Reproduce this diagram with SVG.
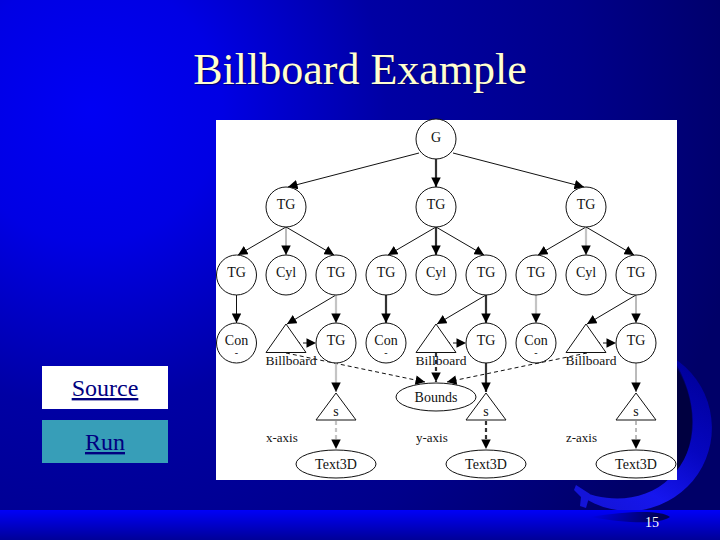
<svg xmlns="http://www.w3.org/2000/svg" width="720" height="540" viewBox="0 0 720 540">
<style>
.n{fill:#fff;stroke:#111;stroke-width:1}
.t{font-family:"Liberation Serif",serif;font-size:14px;fill:#111;text-anchor:middle}
.b{font-size:13.500px}
.da{font-size:10px}
.l{font-family:"Liberation Serif",serif;font-size:13px;fill:#111}
.e{fill:none;stroke:#111;stroke-width:1;marker-end:url(#a)}
.h{stroke-width:2.2;stroke:#333}
.g{stroke:#c4c4c4;stroke-width:2.2}
.m{stroke:#777}
.d{stroke-dasharray:4 3}
.btn{font-family:"Liberation Serif",serif;font-size:24px;fill:#000080;text-anchor:middle;text-decoration:underline}
</style>
<defs>
<radialGradient id="bg" gradientUnits="userSpaceOnUse" cx="90" cy="110" r="660"><stop offset="0" stop-color="#0000f4"/><stop offset="0.2" stop-color="#0000e4"/><stop offset="0.45" stop-color="#0000a4"/><stop offset="0.75" stop-color="#00008a"/><stop offset="1" stop-color="#000068"/></radialGradient>
<linearGradient id="bar" x1="0" y1="0" x2="0" y2="1"><stop offset="0" stop-color="#0000f8"/><stop offset="1" stop-color="#000098"/></linearGradient>
<linearGradient id="sw" gradientUnits="userSpaceOnUse" x1="695" y1="370" x2="600" y2="510"><stop offset="0" stop-color="#00009c"/><stop offset="0.4" stop-color="#0606c0"/><stop offset="0.75" stop-color="#1616ee"/><stop offset="1" stop-color="#1414d8"/></linearGradient>
<linearGradient id="shade" x1="0" y1="0" x2="1" y2="0"><stop offset="0" stop-color="#000070" stop-opacity="0"/><stop offset="0.8" stop-color="#000060"/><stop offset="1" stop-color="#000050"/></linearGradient>
<marker id="a" viewBox="0 0 10 10" refX="10" refY="5" markerWidth="10" markerHeight="9.5" markerUnits="userSpaceOnUse" orient="auto"><path d="M0 0L10 5L0 10Z" fill="#000"/></marker>
</defs>
<rect width="720" height="540" fill="url(#bg)"/>
<g id="swirl">
<path d="M677 368C696 400 698 440 677 475Z" fill="#000040"/>
<path d="M672 357A83 83 0 1 1 580 495L576 489C605 503 645 503 670 478C700 450 700 400 672 357Z" fill="url(#sw)"/>
<path d="M576 485L590 494L586 508L580 506L581 497L574 490Z" fill="#1414d8"/>
</g>
<rect x="0" y="510" width="720" height="30" fill="url(#bar)"/>
<path d="M590 517C630 511 660 510 670 517C660 524 630 524 590 517Z" fill="url(#shade)"/>
<text x="360" y="83.500" font-family="'Liberation Serif',serif" font-size="44" fill="#ffffd0" text-anchor="middle" style="text-shadow:1px 1px 1px #000070">Billboard Example</text>
<g id="source"><rect x="42" y="366" width="126" height="43" fill="#fff"/><text class="btn" x="105" y="396">Source</text></g>
<g id="run"><rect x="42" y="420" width="126" height="43" fill="#379eb8"/><text class="btn" x="105" y="450">Run</text></g>
<text x="652" y="527" font-family="'Liberation Serif',serif" font-size="14" fill="#fff" text-anchor="middle">15</text>
<rect x="216" y="120" width="461" height="360" fill="#fff"/>
<g id="connectors">
<path class="e" d="M419 153L288 187"/>
<path class="e h" d="M436 159V187"/>
<path class="e" d="M453 153L584 187"/>
<path class="e" d="M286 227L238 255"/><path class="e m" d="M286 227V255"/><path class="e" d="M286 227L334 255"/>
<path class="e" d="M436 227L388 255"/><path class="e h" d="M436 227V255"/><path class="e" d="M436 227L484 255"/>
<path class="e" d="M586 227L538 255"/><path class="e g" d="M586 227V255"/><path class="e" d="M586 227L634 255"/>
<path class="e" d="M236.500 295V323"/><path class="e h" d="M386 295V323"/><path class="e g" d="M536 295V323"/>
<path class="e" d="M336 295L287 324"/><path class="e g" d="M336 295V323"/>
<path class="e" d="M486 295L437 324"/><path class="e h" d="M486 295V323"/>
<path class="e" d="M636 295L587 324"/><path class="e m" d="M636 295V323"/>
<path class="e d" d="M296 343H316"/><path class="e d" d="M446 343H466"/><path class="e d" d="M596 343H616"/>
<path class="e d" d="M286 353L425 382"/>
<path class="e d h" d="M436 353V382"/>
<path class="e d" d="M587 353L447 382"/>
<path class="e g" d="M336 363V392"/><path class="e h" d="M486 363V392"/><path class="e m" d="M636 363V392"/>
<path class="e d g" d="M336 421V449"/><path class="e d h" d="M486 421V449"/><path class="e d m" d="M636 421V449"/>
</g>
<g id="G"><circle class="n" cx="436" cy="139" r="20"/><text class="t" x="436" y="142">G</text></g>
<g id="tg1"><circle class="n" cx="286" cy="207" r="20"/><text class="t" x="286" y="209">TG</text></g>
<g id="tg2"><circle class="n" cx="436" cy="207" r="20"/><text class="t" x="436" y="209">TG</text></g>
<g id="tg3"><circle class="n" cx="586" cy="207" r="20"/><text class="t" x="586" y="209">TG</text></g>
<g id="tg11"><circle class="n" cx="236.500" cy="275" r="20"/><text class="t" x="236.500" y="277">TG</text></g>
<g id="cyl1"><circle class="n" cx="286" cy="275" r="20"/><text class="t" x="286" y="277">Cyl</text></g>
<g id="tg12"><circle class="n" cx="336" cy="275" r="20"/><text class="t" x="336" y="277">TG</text></g>
<g id="tg21"><circle class="n" cx="386" cy="275" r="20"/><text class="t" x="386" y="277">TG</text></g>
<g id="cyl2"><circle class="n" cx="436" cy="275" r="20"/><text class="t" x="436" y="277">Cyl</text></g>
<g id="tg22"><circle class="n" cx="486" cy="275" r="20"/><text class="t" x="486" y="277">TG</text></g>
<g id="tg31"><circle class="n" cx="536" cy="275" r="20"/><text class="t" x="536" y="277">TG</text></g>
<g id="cyl3"><circle class="n" cx="586" cy="275" r="20"/><text class="t" x="586" y="277">Cyl</text></g>
<g id="tg32"><circle class="n" cx="636" cy="275" r="20"/><text class="t" x="636" y="277">TG</text></g>
<g id="con1"><circle class="n" cx="236.500" cy="343" r="20"/><text class="t" x="236.500" y="344.500">Con</text><text class="t da" x="236.500" y="356">-</text></g>
<g id="con2"><circle class="n" cx="386" cy="343" r="20"/><text class="t" x="386" y="344.500">Con</text><text class="t da" x="386" y="356">-</text></g>
<g id="con3"><circle class="n" cx="536" cy="343" r="20"/><text class="t" x="536" y="344.500">Con</text><text class="t da" x="536" y="356">-</text></g>
<g id="bb1"><path class="n" d="M286 324L306 352.500H266Z"/><text class="t b" x="291" y="365">Billboard</text></g>
<g id="bb2"><path class="n" d="M436 324L456 352.500H416Z"/><text class="t b" x="441" y="365">Billboard</text></g>
<g id="bb3"><path class="n" d="M586 324L606 352.500H566Z"/><text class="t b" x="591" y="365">Billboard</text></g>
<g id="tg13"><circle class="n" cx="336" cy="343" r="20"/><text class="t" x="336" y="344.500">TG</text></g>
<g id="tg23"><circle class="n" cx="486" cy="343" r="20"/><text class="t" x="486" y="344.500">TG</text></g>
<g id="tg33"><circle class="n" cx="636" cy="343" r="20"/><text class="t" x="636" y="344.500">TG</text></g>
<g id="bounds"><ellipse class="n" cx="436" cy="397" rx="40" ry="14"/><text class="t" x="436" y="401.500">Bounds</text></g>
<g id="s1"><path class="n" d="M336 393L356 420H316Z"/><text class="t" x="336" y="416">s</text></g>
<g id="s2"><path class="n" d="M486 393L506 420H466Z"/><text class="t" x="486" y="416">s</text></g>
<g id="s3"><path class="n" d="M636 393L656 420H616Z"/><text class="t" x="636" y="416">s</text></g>
<text class="l" x="266" y="442">x-axis</text><text class="l" x="416" y="442">y-axis</text><text class="l" x="566" y="442">z-axis</text>
<g id="t1"><ellipse class="n" cx="336" cy="464" rx="40" ry="14"/><text class="t" x="336" y="469">Text3D</text></g>
<g id="t2"><ellipse class="n" cx="486" cy="464" rx="40" ry="14"/><text class="t" x="486" y="469">Text3D</text></g>
<g id="t3"><ellipse class="n" cx="636" cy="464" rx="40" ry="14"/><text class="t" x="636" y="469">Text3D</text></g>
</svg>
